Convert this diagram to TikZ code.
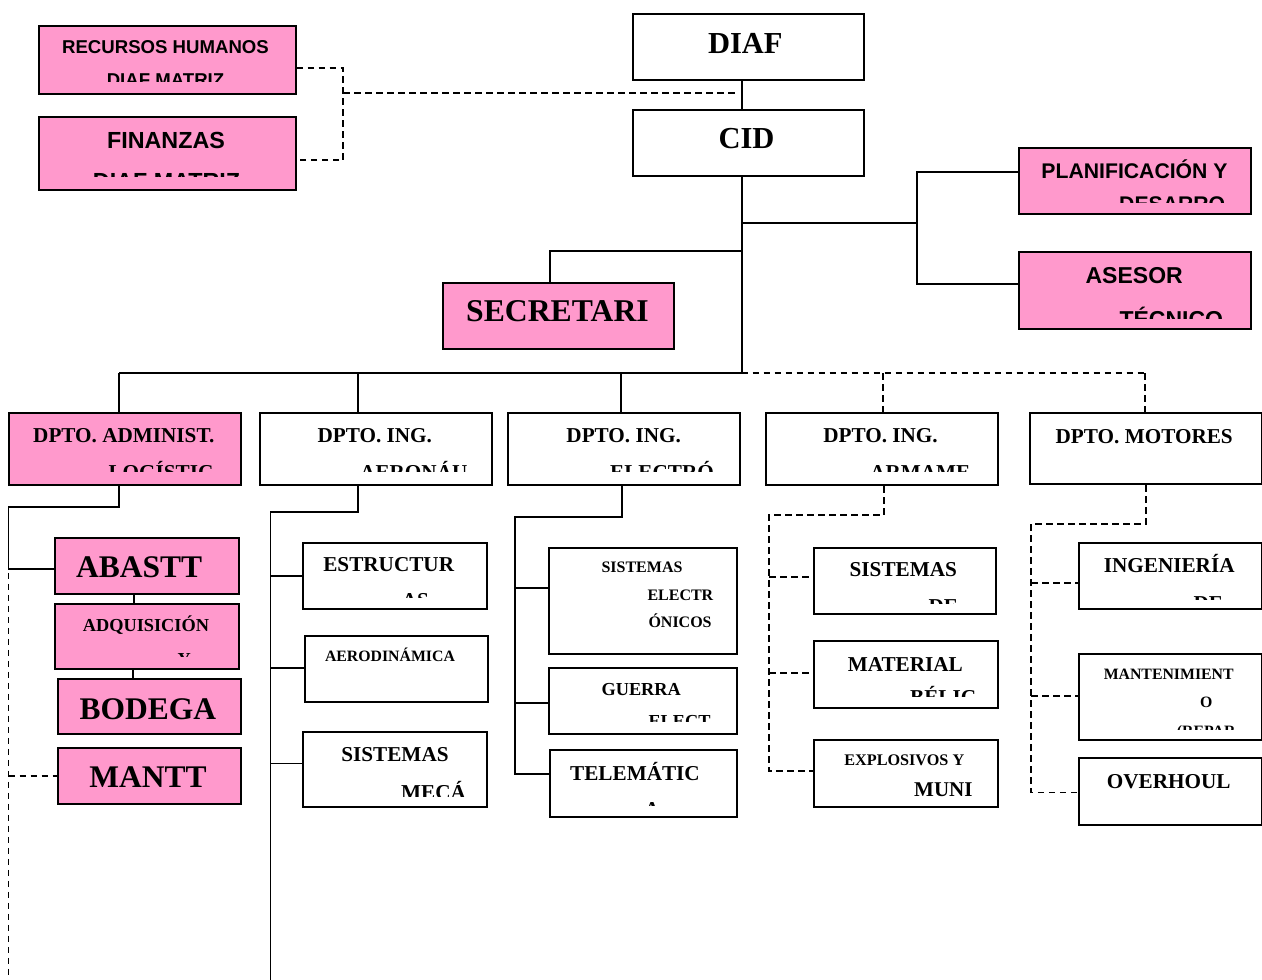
\documentclass[tikz,border=0pt]{standalone}
\usepackage{fontspec}
\setmainfont{Liberation Serif}
\setsansfont{Liberation Sans}
\definecolor{orgpink}{RGB}{255,153,204}
\tikzset{
  box/.style={draw, line width=1.8pt, inner sep=0pt, fill=white},
  pinkbox/.style={box, fill=orgpink},
  ser/.style={font={\fontsize{#1}{#1}\selectfont\bfseries}, anchor=base, inner sep=0pt},
  serw/.style={ser=#1, anchor=base west},
  san/.style={font={\fontsize{#1}{#1}\selectfont\sffamily\bfseries}, anchor=base, inner sep=0pt},
  sanw/.style={san=#1, anchor=base west},
  link/.style={line width=1.8pt},
  dlink/.style={line width=1.8pt, dash pattern=on 6.5pt off 4.5pt},
}
% box: name, x1, y1, x2, y2, style
\newcommand\obox[6]{%
  \node[#6, anchor=north west, minimum width={#4-#2}, minimum height={#5-#3}] (#1) at (#2,#3) {};}
\begin{document}
\begin{tikzpicture}[x=1pt, y=-1pt]
\fill[white] (0,0) rectangle (1262,980);
\useasboundingbox (0,0) rectangle (1262,980);

% ---------------- boxes ----------------
\obox{rh}{37.7}{25.3}{294.7}{92.7}{pinkbox}
\obox{fin}{37.7}{116}{294.7}{189}{pinkbox}
\obox{diaf}{631.7}{13.3}{863}{79.3}{box}
\obox{cid}{631.7}{108.7}{863}{175}{box}
\obox{plan}{1018.3}{146.7}{1250}{213.3}{pinkbox}
\obox{ases}{1018.3}{250.7}{1250}{328.3}{pinkbox}
\obox{secr}{442.3}{281.7}{673.3}{348.3}{pinkbox}
\obox{adm}{8.3}{411.7}{240}{484}{pinkbox}
\obox{aer}{259}{411.7}{490.7}{484}{box}
\obox{ele}{507.3}{412.3}{739.3}{484.3}{box}
\obox{arm}{765}{412.3}{996.7}{484.3}{box}
\obox{mot}{1029.3}{411.7}{1261}{483.3}{box}
\obox{aba}{54}{537.3}{237.7}{592.7}{pinkbox}
\obox{adq}{54}{603.3}{237.7}{667.7}{pinkbox}
\obox{bod}{57.3}{677.7}{240}{733.3}{pinkbox}
\obox{man}{57.3}{747.3}{240}{802.7}{pinkbox}
\obox{est}{302.3}{541.7}{485.7}{608.3}{box}
\obox{aed}{304}{635}{487.3}{701}{box}
\obox{smc}{302.3}{730.7}{485.7}{805.7}{box}
\obox{sel}{548.3}{546.7}{736}{653.3}{box}
\obox{gue}{547.7}{666.7}{736}{733.3}{box}
\obox{tel}{549.3}{749.3}{736}{816}{box}
\obox{sde}{812.7}{546.7}{995}{613.3}{box}
\obox{mat}{813.3}{640}{996.7}{706.7}{box}
\obox{exb}{813.3}{739.3}{996.7}{805.7}{box}
\obox{ing}{1077.7}{541.7}{1261}{608.3}{box}
\obox{mnt}{1077.7}{653.3}{1261}{739.3}{box}
\obox{ovh}{1077.7}{757.3}{1261}{824}{box}

% ---------------- texts (each clipped to its frame) ----------------
\begin{scope}
  \clip (38.5,26) rectangle (294,81.7);
  \node[san=18.6] (rh-a) at (165.5,53.3) {RECURSOS HUMANOS};
  \node[san=18.6] (rh-b) at (165.5,86) {DIAF MATRIZ};
\end{scope}
\begin{scope}
  \clip (38.5,117) rectangle (294,176.7);
  \node[san=23.3] (fin-a) at (166,148.3) {FINANZAS};
  \node[san=23.3] (fin-b) at (166.5,189.4) {DIAF MATRIZ};
\end{scope}
\node[ser=30.5] (diaf-a) at (745.3,53.3) {DIAF};
\node[ser=30.5] (cid-a) at (746.5,148.3) {CID};
\begin{scope}
  \clip (1019,147.5) rectangle (1249,202.7);
  \node[san=21.2] (plan-a) at (1134.5,178.3) {PLANIFICACIÓN Y};
  \node[sanw=21.2] (plan-b) at (1119,211.7) {DESARRO};
\end{scope}
\begin{scope}
  \clip (1019,251.5) rectangle (1249,318.3);
  \node[san=23] (ases-a) at (1134.2,283.3) {ASESOR};
  \node[sanw=23] (ases-b) at (1119.3,327.8) {TÉCNICO};
\end{scope}
\node[ser=31.7] (secr-a) at (557.5,321.7) {SECRETARI};

\begin{scope}
  \clip (9,412.5) rectangle (239,471.7);
  \node[ser=21.2] (adm-a) at (123.8,442.3) {DPTO. ADMINIST.};
  \node[serw=21.2] (adm-b) at (108.3,479) {LOGÍSTIC};
\end{scope}
\begin{scope}
  \clip (260,412.5) rectangle (490,471.7);
  \node[ser=21.2] (aer-a) at (374.8,442.3) {DPTO. ING.};
  \node[serw=21.2] (aer-b) at (360,479) {AERONÁU};
\end{scope}
\begin{scope}
  \clip (508,413) rectangle (738.5,471.7);
  \node[ser=21.2] (ele-a) at (623.7,442.3) {DPTO. ING.};
  \node[serw=21.2] (ele-b) at (610,479) {ELECTRÓ};
\end{scope}
\begin{scope}
  \clip (766,413) rectangle (996,471.7);
  \node[ser=21.2] (arm-a) at (880.5,442.3) {DPTO. ING.};
  \node[serw=21.2] (arm-b) at (870,479) {ARMAME};
\end{scope}
\node[ser=21.2] (mot-a) at (1144.2,443.3) {DPTO. MOTORES};

\node[ser=31.5] (aba-a) at (139.2,577.7) {ABASTT};
\begin{scope}
  \clip (55,604) rectangle (237,656.7);
  \node[ser=18.3] (adq-a) at (146,631) {ADQUISICIÓN};
  \node[ser=18.3] (adq-b) at (184.2,665.4) {Y};
\end{scope}
\node[ser=31.5] (bod-a) at (147.8,719) {BODEGA};
\node[ser=31.5] (man-a) at (148,787.7) {MANTT};

\begin{scope}
  \clip (303,542.5) rectangle (485,597.7);
  \node[ser=21.2] (est-a) at (388.7,571.7) {ESTRUCTUR};
  \node[serw=21.2] (est-b) at (401.7,607.3) {AS};
\end{scope}
\node[ser=15.8] (aed-a) at (390,661) {AERODINÁMICA};
\begin{scope}
  \clip (303,731.5) rectangle (485,796.5);
  \node[ser=21.2] (smc-a) at (395,761.7) {SISTEMAS};
  \node[serw=21.2] (smc-b) at (401,799) {MECÁ};
\end{scope}

\node[ser=16] (sel-a) at (642,572.3) {SISTEMAS};
\node[serw=16] (sel-b) at (647.3,600) {ELECTR};
\node[serw=16] (sel-c) at (648.3,627.7) {ÓNICOS};
\begin{scope}
  \clip (548.5,667.5) rectangle (735,721.7);
  \node[ser=18.3] (gue-a) at (641.2,695) {GUERRA};
  \node[serw=18.3] (gue-b) at (648.3,727.1) {ELECT};
\end{scope}
\begin{scope}
  \clip (550,750) rectangle (735,805.7);
  \node[ser=21.2] (tel-a) at (635,780) {TELEMÁTIC};
  \node[ser=21.2] (tel-b) at (652,816.7) {A};
\end{scope}

\begin{scope}
  \clip (813.5,547.5) rectangle (994,603.3);
  \node[ser=21.2] (sde-a) at (903.3,576.7) {SISTEMAS};
  \node[serw=21.2] (sde-b) at (928.3,613.3) {DE};
\end{scope}
\begin{scope}
  \clip (814,641) rectangle (996,696);
  \node[ser=21.2] (mat-a) at (905.3,671.7) {MATERIAL};
  \node[serw=21.2] (mat-b) at (910,704) {BÉLIC};
\end{scope}
\begin{scope}
  \clip (814,740) rectangle (996,797);
  \node[ser=16.2] (exb-a) at (904.3,765) {EXPLOSIVOS Y};
  \node[serw=21] (exb-b) at (914,796.7) {MUNI};
\end{scope}

\begin{scope}
  \clip (1078.5,542.5) rectangle (1260,599.3);
  \node[ser=21.2] (ing-a) at (1169.2,572.7) {INGENIERÍA};
  \node[serw=21.2] (ing-b) at (1193.3,610) {DE};
\end{scope}
\begin{scope}
  \clip (1078.5,654) rectangle (1260,729.3);
  \node[ser=15.8] (mnt-a) at (1168.7,679.3) {MANTENIMIENT};
  \node[ser=15.8] (mnt-b) at (1206.3,707.3) {O};
  \node[serw=15.8] (mnt-c) at (1176.7,736) {(REPAR};
\end{scope}
\node[ser=21.2] (ovh-a) at (1168.7,788.3) {OVERHOUL};

% ---------------- junction points ----------------
\coordinate (trunk) at (741.7,373.3);
\coordinate (mtx) at (343,92.7);
\coordinate (mtend) at (736.7,92.7);
\coordinate (staffj) at (917.3,223.3);
\coordinate (secj) at (550,250.7);
\coordinate (b1) at (119.3,373.3);
\coordinate (b2) at (357.7,373.3);
\coordinate (b3) at (620.7,373.3);
\coordinate (b4) at (882.7,373.3);
\coordinate (b5) at (1144.7,373.3);
\coordinate (a1) at (119.3,506.7);
\coordinate (a2) at (8.5,506.7);
\coordinate (aend) at (8.5,980);
\coordinate (ax) at (134,0);
\coordinate (ax2) at (133.3,0);
\coordinate (r1) at (357.7,511.7);
\coordinate (r2) at (270.5,511.7);
\coordinate (rend) at (270.5,980);
\coordinate (e1) at (622.3,517.3);
\coordinate (e2) at (515,517.3);
\coordinate (w1) at (884,515);
\coordinate (w2) at (769,515);
\coordinate (m1) at (1145.7,524);
\coordinate (m2) at (1031,524);

% ---------------- connectors ----------------
% staff units of the parent headquarters
\draw[dlink] ([yshift=-7.7pt]rh.east) -| (mtx) |- ([yshift=-6.8pt]fin.east);
\draw[dlink] (mtx) -- (mtend);

% main trunk
\draw[link] (diaf.south -| trunk) -- (cid.north -| trunk);
\draw[link] (cid.south -| trunk) -- (trunk);
\draw[link] (trunk |- staffj) -- (staffj);
\draw[link] ([yshift=9.3pt]plan.west) -| (staffj) |- ([yshift=6.2pt]ases.west);
\draw[link] (trunk |- secj) -- (secj) -- (secj |- secr.north);

% department bus
\draw[link] (trunk) -- (b1);
\draw[dlink] (trunk) -- (b5);
\draw[link] (b1) -- (b1 |- adm.north);
\draw[link] (b2) -- (b2 |- aer.north);
\draw[link] (b3) -- (b3 |- ele.north);
\draw[dlink] (b4) -- (b4 |- arm.north);
\draw[dlink] (b5) -- (b5 |- mot.north);

% logistics
\draw[link] (a1 |- adm.south) -- (a1) -- (a2) |- ([yshift=-3pt]aba.west);
\draw[dlink] ([yshift=-7pt]a2 |- aba.west) -- (aend);
\draw[dlink] (man.west -| aend) -- (man.west);
\draw[link] (ax |- aba.south) -- (ax |- adq.north);
\draw[link] (ax2 |- adq.south) -- (ax2 |- bod.north);

% aeronautics
\draw[link] (r1 |- aer.south) -- (r1) -- (r2) -- (rend);
\draw[link] (est.west -| rend) -- (est.west);
\draw[link] ([yshift=1.3pt]aed.west -| rend) -- ([yshift=1.3pt]aed.west);
\draw[link] ([yshift=5.7pt]smc.west -| rend) -- ([yshift=5.7pt]smc.west);

% electronics
\draw[link] (e1 |- ele.south) -- (e1) -- (e2) |- ([yshift=9.4pt]tel.west);
\draw[link] ([yshift=13.3pt]sel.west -| e2) -- ([yshift=13.3pt]sel.west);
\draw[link] ([yshift=-1.7pt]gue.west -| e2) -- ([yshift=-1.7pt]gue.west);

% armament
\draw[dlink] (w1 |- arm.south) -- (w1) -- (w2) |- ([yshift=2.5pt]exb.west);
\draw[dlink] ([yshift=4.3pt]sde.west -| w2) -- ([yshift=4.3pt]sde.west);
\draw[dlink] ([yshift=1.6pt]mat.west -| w2) -- ([yshift=1.6pt]mat.west);

% engines
\draw[dlink] (m1 |- mot.south) -- (m1) -- (m2) |- ([yshift=-1pt]ovh.west);
\draw[dlink] ([yshift=-6.7pt]ing.west -| m2) -- ([yshift=-6.7pt]ing.west);
\draw[dlink] ([yshift=1.3pt]mnt.west -| m2) -- ([yshift=1.3pt]mnt.west);
\end{tikzpicture}
\end{document}
